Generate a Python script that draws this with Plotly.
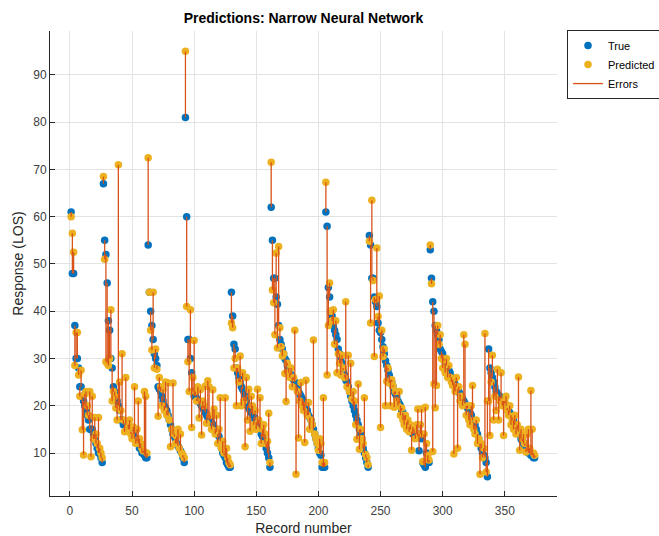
import numpy as np
import plotly.graph_objects as go

# Observed length of stay per record, grouped by the descending runs in the data set
true_run1 = [61, 48, 48, 37, 30, 30, 28, 24, 24, 22, 21, 20, 19, 18, 17, 15, 15, 15, 14, 13, 12, 11, 10, 10, 9, 8]
pred_run1 = [60, 56.5, 52.5, 28.5, 35.5, 35.5, 26.5, 22, 27.5, 14.9, 9.6, 22.5, 23, 20, 18, 23, 9.2, 22, 13, 17.5, 14, 12, 17.5, 11, 10, 9]

true_run2 = [67, 55, 52, 46, 38, 36, 30, 28, 24, 23, 22, 21, 20, 19, 17, 17, 16, 16, 16, 15, 15, 15, 14.5, 14, 14, 13,
             13, 12.5, 12, 11, 11, 10, 10, 9.5, 9, 9]
pred_run2 = [68.5, 51, 29.3, 29, 28.5, 30, 40.3, 21, 23, 22, 19.5, 17, 71, 25, 19, 31, 17, 14.5, 26, 15, 16, 17, 14, 13,
             15.5, 24, 12, 15, 21, 13, 12, 11, 10.5, 23, 22, 10]

true_run3 = [54, 44, 40, 37, 34, 31, 30, 28.5, 24, 23.5, 23, 22, 21, 20, 19.5, 19, 18, 17, 16, 15, 14, 13.5, 13, 12,
             11.5, 11, 10.5, 10, 9, 8]
pred_run3 = [72.5, 44, 36, 31.8, 44, 28, 32, 27.7, 17.8, 26, 24, 20, 23.5, 19, 25, 18, 24.8, 17, 11.3, 15, 24.8, 14, 12,
             13.5, 15, 11, 14, 10, 9.5, 9]

true_run4 = [81, 60, 34, 34, 30, 27, 23, 22, 22, 21.5, 21, 21, 20.5, 20, 19.5, 19, 18.5, 18, 17.5, 17, 17, 16.5, 16,
             15.5, 15, 14.5, 14, 13.5, 12.5, 11, 10, 9.5, 9, 8, 7.5, 7, 7]
pred_run4 = [95, 41, 29.3, 23, 40.3, 15.4, 26, 33.8, 23, 21, 24, 17.4, 23.4, 13.8, 21, 20, 24.2, 16.3, 25.3, 24, 18, 15,
             23.4, 19.3, 14, 18, 12, 15, 21.7, 11, 12.5, 10, 21.7, 11, 9, 8, 7.5]

true_run5 = [44, 39, 33, 32, 28, 27, 26, 25, 24, 23.5, 23, 22, 21, 20, 19.5, 19, 18.5, 18, 17.5, 17, 16.5, 16, 15.5, 15,
             14, 13.5, 13, 12, 11, 10, 9, 7]
pred_run5 = [37.5, 36.5, 28, 30, 20, 28, 25, 30.5, 20, 27, 21, 11.3, 26, 17, 23.5, 14.6, 22, 20, 16, 19, 15, 23.5, 17,
             21.7, 12, 15, 16, 14, 12, 12.5, 18.4, 8]

true_run6 = [62, 55, 47, 47, 43, 41.5, 37, 34, 33, 32, 31, 30, 29.5, 28.5, 28, 27, 26.5, 26, 25.5, 25, 24.5, 24, 23,
             22.5, 22, 21.5, 21, 20.5, 20, 19, 18, 17.5, 17, 16, 15, 14, 13, 12, 11, 10, 9.5, 7, 7, 7]
pred_run6 = [71.5, 44.5, 41.8, 35, 52.3, 32.2, 53.7, 36.5, 32.5, 30.5, 31, 26.8, 20.9, 29, 27, 26, 28, 24, 26, 36, 5.5,
             23, 13.2, 21, 24.9, 20, 19, 12.2, 25.4, 18, 20.7, 15, 17, 16, 33.9, 14, 13, 12, 10.6, 13, 12, 8, 21.7, 8]

true_run7 = [61, 58, 45, 43, 40, 39, 37, 36, 35, 34, 32, 31, 30, 29, 27.5, 26.5, 25.5, 25, 24, 23, 22, 21, 20, 19, 18,
             17, 16, 15, 14, 13, 11, 10, 9, 8, 7]
pred_run7 = [67.3, 26.5, 37, 46, 40, 38, 40.3, 33, 38, 27, 31, 29, 26.5, 30.7, 28, 26, 42, 24, 30.7, 23, 29, 21.5, 23,
             21, 16, 12.9, 24.6, 10.8, 15, 13, 12, 21.7, 9.7, 9, 7.5]

true_run8 = [56, 54, 47, 47, 43, 42, 41, 37.5, 36, 35.5, 34, 32.5, 31, 29.5, 28.5, 27.5, 26.5, 25.5, 25, 24, 23, 22.5,
             22, 21, 20.5, 20, 19, 18.5, 18, 17, 16.5, 16, 15.5, 15, 14.5, 14, 14, 14, 14, 13.5, 10.5, 14, 13, 8, 7.5, 7,
             10, 8, 8]
pred_run8 = [54.8, 37.5, 63.5, 46.5, 30.4, 42.5, 53.4, 38.9, 43.2, 15.4, 36, 30.4, 32, 20, 25.2, 28, 24.8, 20, 25.5,
             24.3, 19.7, 23, 21, 20, 23, 18, 19.5, 17, 16, 18, 15, 17, 14.5, 16, 10.6, 15.5, 15, 13, 16, 19.3, 14, 16,
             19.3, 8.2, 14, 19.7, 12, 9.5, 8.5]

true_run9 = [53, 47, 42, 40, 37, 36, 35, 34, 32, 31.5, 31, 30, 29, 28.5, 28, 27.5, 27, 26, 25.5, 25, 24.5, 24, 23.5,
             23, 22.5, 22, 21.5, 21, 20.5, 20, 19.5, 19, 18.5, 18, 17, 16.5, 16, 15, 14, 13, 12, 11, 10, 9.5, 9, 8, 5]
pred_run9 = [54, 45.8, 10.3, 24.6, 19.6, 24.3, 37, 33, 35, 30, 28, 29.5, 27, 30, 26, 28.5, 26, 25, 24.3, 9.8, 23, 26,
             11, 24, 21, 22, 20, 35, 33, 18, 20, 17, 16, 20, 24.3, 15, 14, 17, 12, 13, 5.5, 12, 9, 11, 35.3, 6, 21]

true_run10 = [32, 28, 27, 26, 25, 24, 23, 22.5, 22, 22, 21.5, 21, 21, 20.5, 20, 19.5, 19, 18.5, 18, 17.5, 17, 16, 15.5,
              15, 14.5, 14, 13, 12.5, 12, 11.5, 11, 10.5, 10, 10, 9.5, 9.5, 9, 9]
pred_run10 = [21, 13.7, 25, 30.7, 17, 22, 19, 27.7, 17, 21, 27, 20, 13.7, 21, 22, 19, 18, 20, 16, 17, 15, 18, 14, 16,
              26.1, 10.6, 15, 13, 14, 12, 10.2, 14, 15, 11, 23.2, 15, 10, 9.5]

true_los = (true_run1 + true_run2 + true_run3 + true_run4 + true_run5 + true_run6 + true_run7 + true_run8
            + true_run9 + true_run10)
pred_los = (pred_run1 + pred_run2 + pred_run3 + pred_run4 + pred_run5 + pred_run6 + pred_run7 + pred_run8
            + pred_run9 + pred_run10)
records = list(range(1, len(true_los) + 1))

x_ticks = [0, 50, 100, 150, 200, 250, 300, 350]
y_ticks = [10, 20, 30, 40, 50, 60, 70, 80, 90]

BLUE = "#0072BD"
ORANGE = "#EDB120"
RED = "#D95319"
FONT = "Liberation Sans, Arial, sans-serif"

# vertical error segments from observed to predicted value
err_x, err_y = [], []
for r, t, p in zip(records, true_los, pred_los):
    err_x += [r, r, None]
    err_y += [t, p, None]

fig = go.Figure()
fig.add_trace(go.Scatter(x=records, y=true_los, mode="markers", name="True",
                         marker=dict(color=BLUE, size=7.5, line=dict(width=0))))
fig.add_trace(go.Scatter(x=records, y=pred_los, mode="markers", name="Predicted",
                         marker=dict(color=ORANGE, size=7.5, line=dict(width=0))))
fig.add_trace(go.Scatter(x=err_x, y=err_y, mode="lines", name="Errors",
                         line=dict(color=RED, width=1.3), connectgaps=False))

axis_common = dict(
    showgrid=True, gridcolor="#e3e3e3", gridwidth=1,
    showline=True, linecolor="#262626", linewidth=1,
    ticks="inside", ticklen=5, tickcolor="#262626",
    tickfont=dict(family=FONT, size=12, color="#404040"),
    zeroline=False, mirror=False,
)

fig.update_layout(
    width=659, height=536,
    paper_bgcolor="white", plot_bgcolor="white",
    margin=dict(l=50, r=102, t=31, b=40, autoexpand=False),
    title=dict(text="<b>Predictions: Narrow Neural Network</b>", x=0.5, xref="paper",
               y=1 - 18 / 536, yanchor="middle",
               font=dict(family=FONT, size=14, color="#000000")),
    xaxis=dict(axis_common, range=[-16, 392], tickvals=x_ticks, ticklabelstandoff=4,
               title=dict(text="Record number", standoff=6,
                          font=dict(family=FONT, size=14, color="#262626"))),
    yaxis=dict(axis_common, range=[0.9, 99.3], tickvals=y_ticks,
               title=dict(text="Response (LOS)", standoff=6,
                          font=dict(family=FONT, size=14, color="#262626"))),
    showlegend=True,
    legend=dict(x=1.0197, y=1.002, xanchor="left", yanchor="top",
                bgcolor="white", bordercolor="#262626", borderwidth=1,
                font=dict(family=FONT, size=11, color="#000000"),
                tracegroupgap=0, itemwidth=30),
)

fig.write_html("out.html")
